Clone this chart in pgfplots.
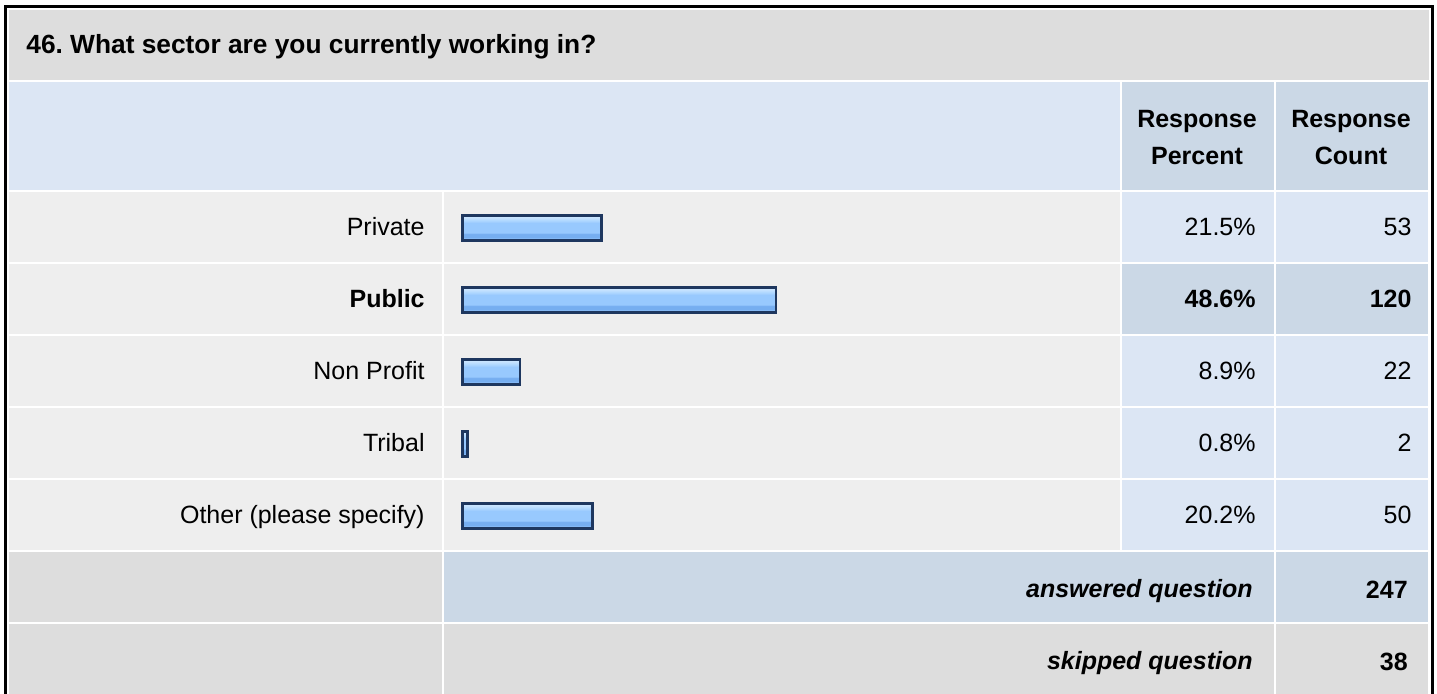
\documentclass[border=0pt]{standalone}
\usepackage{fontspec}
\setmainfont{Liberation Sans}
\usepackage{pgfplots}
\usepackage{pgfplotstable}
\pgfplotsset{compat=1.18}
\frenchspacing

\definecolor{titlebg}{RGB}{221,221,221}
\definecolor{headbg}{RGB}{220,230,244}
\definecolor{headdark}{RGB}{203,216,230}
\definecolor{rowbg}{RGB}{238,238,238}
\definecolor{cellbg}{RGB}{220,230,244}
\definecolor{barborder}{RGB}{30,55,95}
\definecolor{bA}{RGB}{165,208,255}
\definecolor{bB}{RGB}{152,201,254}
\definecolor{bC}{RGB}{118,174,240}
\definecolor{bD}{RGB}{175,215,255}
\definecolor{bE}{RGB}{200,228,255}

\pgfdeclareverticalshading{barshade}{100bp}{color(0bp)=(bA); color(25bp)=(bA); color(29bp)=(bB); color(31bp)=(bC); color(38bp)=(bC); color(41bp)=(bB); color(60bp)=(bB); color(65bp)=(bD); color(71bp)=(bE); color(75bp)=(bE); color(100bp)=(bE)}

\newcommand{\rowfont}{\fontsize{12.5}{15}\selectfont}

\pgfplotstableread{
row pct count label
0 21.5 53 Private
1 48.6 120 Public
2 8.9 22 {Non Profit}
3 0.8 2 Tribal
4 20.2 50 {Other (please specify)}
}\sectordata

\pgfplotstableread{
row count
5.0417 247
6.0417 38
}\totaldata

\begin{document}
\begin{tikzpicture}
\begin{scope}[x=0.5pt,y=-0.5pt]
\fill[white] (0,0) rectangle (1437,694);
\fill[titlebg] (9,10) rectangle (1429,80);
\fill[headbg] (9,82) rectangle (1120,190);
\fill[headdark] (1122,82) rectangle (1274,190);
\fill[headdark] (1276,82) rectangle (1428,190);
\foreach \t/\pc in {192/cellbg,264/headdark,336/cellbg,408/cellbg,480/cellbg} {
  \fill[rowbg] (9,\t) rectangle (442,\t+70);
  \fill[rowbg] (444,\t) rectangle (1120,\t+70);
  \fill[\pc] (1122,\t) rectangle (1274,\t+70);
  \fill[\pc] (1276,\t) rectangle (1428,\t+70);
}
\fill[titlebg] (9,552) rectangle (442,622);
\fill[headdark] (444,552) rectangle (1274,622);
\fill[headdark] (1276,552) rectangle (1428,622);
\fill[titlebg] (9,624) rectangle (442,694);
\fill[titlebg] (444,624) rectangle (1274,694);
\fill[titlebg] (1276,624) rectangle (1428,694);
\draw[line width=1.5pt, black, line join=miter] (5.5,694) -- (5.5,6.5) -- (1432.5,6.5) -- (1432.5,694);
\node[anchor=base west, inner sep=0pt, font=\bfseries\fontsize{13.15}{15}\selectfont] at (26,53.3) {46. What sector are you currently working in?};
\node[anchor=base, inner sep=0pt, font=\bfseries\rowfont] at (1197,128) {Response};
\node[anchor=base, inner sep=0pt, font=\bfseries\rowfont] at (1197,165) {Percent};
\node[anchor=base, inner sep=0pt, font=\bfseries\rowfont] at (1351,128) {Response};
\node[anchor=base, inner sep=0pt, font=\bfseries\rowfont] at (1351,165) {Count};
\node[anchor=base east, inner sep=0pt, font=\bfseries\itshape\rowfont] at (1253,598) {answered question};
\node[anchor=base east, inner sep=0pt, font=\bfseries\itshape\rowfont] at (1253,670) {skipped question};
\end{scope}

\begin{axis}[
  at={(0,0)}, anchor=north west,
  scale only axis, width=718.5pt, height=347pt,
  xmin=-71.705, xmax=151.085,
  ymin=-3.1667, ymax=6.4722,
  y dir=reverse,
  hide axis, clip=false,
  /pgf/number format/assume math mode=true,
  nodes near coords align={anchor=base east},
  every node near coord/.append style={inner sep=0pt, yshift=-3.5pt, font=\rowfont, text=black},
]
% bars, one path per bar so that each gets its own shading
\pgfplotsinvokeforeach{0,...,4}{
\addplot[xbar, bar width=12.65pt, draw=barborder, line width=1.35pt, shade, shading=barshade,
  restrict expr to domain={\coordindex}{#1:#1}]
  table[x=pct, y=row] {\sectordata};
}
% row labels
\addplot[draw=none, mark=none, point meta=explicit symbolic, nodes near coords,
  skip coords between index={1}{2}]
  table[x expr=-5.814, y=row, meta=label] {\sectordata};
\addplot[draw=none, mark=none, point meta=explicit symbolic, nodes near coords,
  every node near coord/.append style={font=\bfseries\rowfont},
  restrict expr to domain={\coordindex}{1:1}]
  table[x expr=-5.814, y=row, meta=label] {\sectordata};
% percents
\addplot[draw=none, mark=none, point meta=\thisrow{pct},
  nodes near coords={\pgfmathprintnumber[fixed,fixed zerofill,precision=1]{\pgfplotspointmeta}\%},
  skip coords between index={1}{2}]
  table[x expr=123.02, y=row] {\sectordata};
\addplot[draw=none, mark=none, point meta=\thisrow{pct},
  nodes near coords={\pgfmathprintnumber[fixed,fixed zerofill,precision=1]{\pgfplotspointmeta}\%},
  every node near coord/.append style={font=\bfseries\rowfont},
  restrict expr to domain={\coordindex}{1:1}]
  table[x expr=123.02, y=row] {\sectordata};
% counts
\addplot[draw=none, mark=none, point meta=\thisrow{count},
  nodes near coords={\pgfmathprintnumber[fixed,precision=0]{\pgfplotspointmeta}},
  skip coords between index={1}{2}]
  table[x expr=147.2, y=row] {\sectordata};
\addplot[draw=none, mark=none, point meta=\thisrow{count},
  nodes near coords={\pgfmathprintnumber[fixed,precision=0]{\pgfplotspointmeta}},
  every node near coord/.append style={font=\bfseries\rowfont},
  restrict expr to domain={\coordindex}{1:1}]
  table[x expr=147.2, y=row] {\sectordata};
% totals
\addplot[draw=none, mark=none, point meta=\thisrow{count},
  nodes near coords={\pgfmathprintnumber[fixed,precision=0]{\pgfplotspointmeta}},
  every node near coord/.append style={font=\bfseries\rowfont}]
  table[x expr=146.6, y=row] {\totaldata};
\end{axis}
\pgfresetboundingbox
\useasboundingbox (0,0) rectangle (718.5pt,-347pt);
\end{tikzpicture}
\end{document}
